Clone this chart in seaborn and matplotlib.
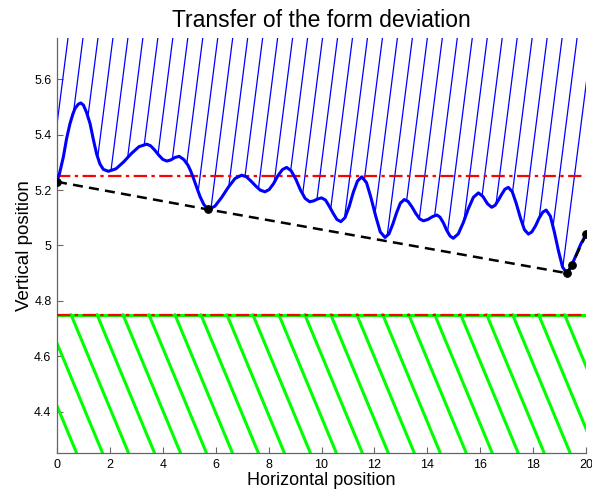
import numpy as np
import pandas as pd
import matplotlib
matplotlib.use("Agg")
import matplotlib.pyplot as plt
import seaborn as sns
from matplotlib.ticker import FormatStrFormatter

profile_x = [0.0, 0.1, 0.24, 0.36, 0.49, 0.6, 0.68, 0.8, 0.9,
             1.0, 1.12, 1.25, 1.38, 1.5, 1.62, 1.75, 1.94,
             2.23, 2.52, 2.81, 3.1, 3.39,
             3.54, 3.69, 3.85, 4.0, 4.15, 4.3, 4.46, 4.62,
             4.8, 4.95, 5.05, 5.15, 5.28, 5.41, 5.55, 5.72,
             5.97, 6.22, 6.48, 6.73, 6.98,
             7.16, 7.33, 7.51, 7.68, 7.86,
             8.02, 8.19, 8.35, 8.52, 8.68,
             8.85, 9.03, 9.2, 9.38, 9.55, 9.7, 9.85, 10.0,
             10.15, 10.29, 10.44, 10.58, 10.73,
             10.89, 11.05, 11.2, 11.36, 11.52,
             11.7, 11.87, 12.05, 12.22, 12.4,
             12.55, 12.69, 12.84, 12.98, 13.13,
             13.27, 13.42, 13.56, 13.71, 13.85, 14.02, 14.19, 14.36,
             14.48, 14.61, 14.73, 14.86, 14.98,
             15.17, 15.36, 15.55, 15.74, 15.93, 16.1, 16.27, 16.43,
             16.56, 16.68, 16.81, 16.93, 17.06,
             17.21, 17.36, 17.52, 17.67, 17.82,
             17.95, 18.09, 18.22, 18.36, 18.49,
             18.65, 18.8, 18.96, 19.11, 19.27,
             19.36, 19.46, 19.6, 19.8, 20.0]
profile_y = [5.232, 5.262, 5.32, 5.385, 5.44, 5.475, 5.495, 5.51, 5.515,
             5.507, 5.48, 5.44, 5.38, 5.33, 5.295, 5.275, 5.268,
             5.277, 5.302, 5.332, 5.357, 5.366,
             5.36, 5.345, 5.326, 5.311, 5.305, 5.309, 5.318, 5.322,
             5.31, 5.29, 5.27, 5.245, 5.21, 5.176, 5.148, 5.13,
             5.142, 5.173, 5.211, 5.242, 5.254,
             5.248, 5.233, 5.215, 5.2, 5.194,
             5.202, 5.224, 5.252, 5.274, 5.282,
             5.27, 5.239, 5.201, 5.17, 5.158, 5.161, 5.168, 5.172,
             5.164, 5.142, 5.116, 5.094, 5.086,
             5.101, 5.142, 5.192, 5.233, 5.248,
             5.227, 5.172, 5.105, 5.049, 5.029,
             5.042, 5.076, 5.119, 5.153, 5.166,
             5.159, 5.139, 5.116, 5.096, 5.089, 5.094, 5.104, 5.11,
             5.102, 5.081, 5.055, 5.034, 5.026,
             5.042, 5.083, 5.133, 5.174, 5.19, 5.177, 5.151, 5.138,
             5.145, 5.163, 5.185, 5.203, 5.21,
             5.194, 5.152, 5.099, 5.057, 5.041,
             5.049, 5.071, 5.098, 5.12, 5.128,
             5.106, 5.049, 4.979, 4.922, 4.90,
             4.91, 4.93, 4.96, 5.005, 5.04]

# Contact points of the transferred (lower envelope) line
contact_x = [0.0, 5.72, 19.27, 19.46, 20.0]
contact_y = [5.23, 5.13, 4.90, 4.93, 5.04]

# Tolerance limits
upper_limit = 5.25
lower_limit = 4.75

# Hatching parameters
blue_first, blue_step, blue_slope, blue_count = 0.416, 0.566, 0.75, 36
green_first, green_step, green_slope = 0.53, 0.982, 0.23

xmin, xmax, ymin, ymax = 0, 20, 4.25, 5.75

sns.set_style("white")
plt.rcParams['font.family'] = ['Liberation Sans', 'DejaVu Sans']
plt.rcParams['text.color'] = 'black'
plt.rcParams['axes.labelcolor'] = 'black'
plt.rcParams['xtick.color'] = 'black'
plt.rcParams['ytick.color'] = 'black'

fig = plt.figure(figsize=(5.92, 4.93), dpi=100)
ax = fig.add_axes([0.0963, 0.0811, 0.8937, 0.842])

# blue hatching above the profile
cx = np.array(profile_x)
cy = np.array(profile_y)
for i in range(blue_count):
    xt = blue_first + i * blue_step
    xs = np.linspace(xt - 2.0, xt, 4000)
    ly = ymax - blue_slope * (xt - xs)
    inside = (xs >= cx[0]) & (xs <= cx[-1])
    below = inside & (ly <= np.interp(xs, cx, cy))
    x0 = xs[below].max() if below.any() else xs[0]
    ax.plot([x0, xt], [ymax - blue_slope * (xt - x0), ymax], color='blue', lw=0.9, zorder=2)

# green hatching below the lower limit
for k in range(-3, 21):
    xt = green_first + k * green_step
    ax.plot([xt, xt + (lower_limit - ymin) / green_slope], [lower_limit, ymin],
            color='#00ff00', lw=2.2, zorder=2)
ax.axhline(lower_limit, color='#00ff00', lw=2.2, zorder=2)

sns.lineplot(x=profile_x, y=profile_y, sort=False, color='blue', lw=2.2, ax=ax, zorder=4)
sns.lineplot(x=contact_x, y=contact_y, sort=False, color='black', lw=1.8, ax=ax,
             linestyle=(0, (4, 2.5)), marker='o', markersize=5.5, markeredgecolor='black',
             zorder=5)
ax.axhline(upper_limit, color='red', lw=1.6, linestyle=(0, (6, 2, 1.5, 2)), zorder=3)
ax.axhline(lower_limit, color='red', lw=1.6, linestyle=(0, (6, 2, 1.5, 2)), zorder=3)

ax.set_xlim(xmin, xmax)
ax.set_ylim(ymin, ymax)
ax.set_xticks(np.arange(0, 21, 2))
ax.set_yticks([4.4, 4.6, 4.8, 5.0, 5.2, 5.4, 5.6])
ax.yaxis.set_major_formatter(FormatStrFormatter('%g'))
ax.tick_params(direction='in', length=4, width=0.8, color='#666666', labelsize=9,
               pad=4, bottom=True, left=True)
for side in ['top', 'right']:
    ax.spines[side].set_visible(False)
for side in ['bottom', 'left']:
    ax.spines[side].set_color('#666666')
    ax.spines[side].set_linewidth(0.9)

ax.set_title("Transfer of the form deviation", fontsize=16.5, pad=8)
ax.set_xlabel("Horizontal position", fontsize=13, labelpad=1)
ax.set_ylabel("Vertical position", fontsize=13.5, labelpad=1)

plt.savefig("out.png", dpi=100)
